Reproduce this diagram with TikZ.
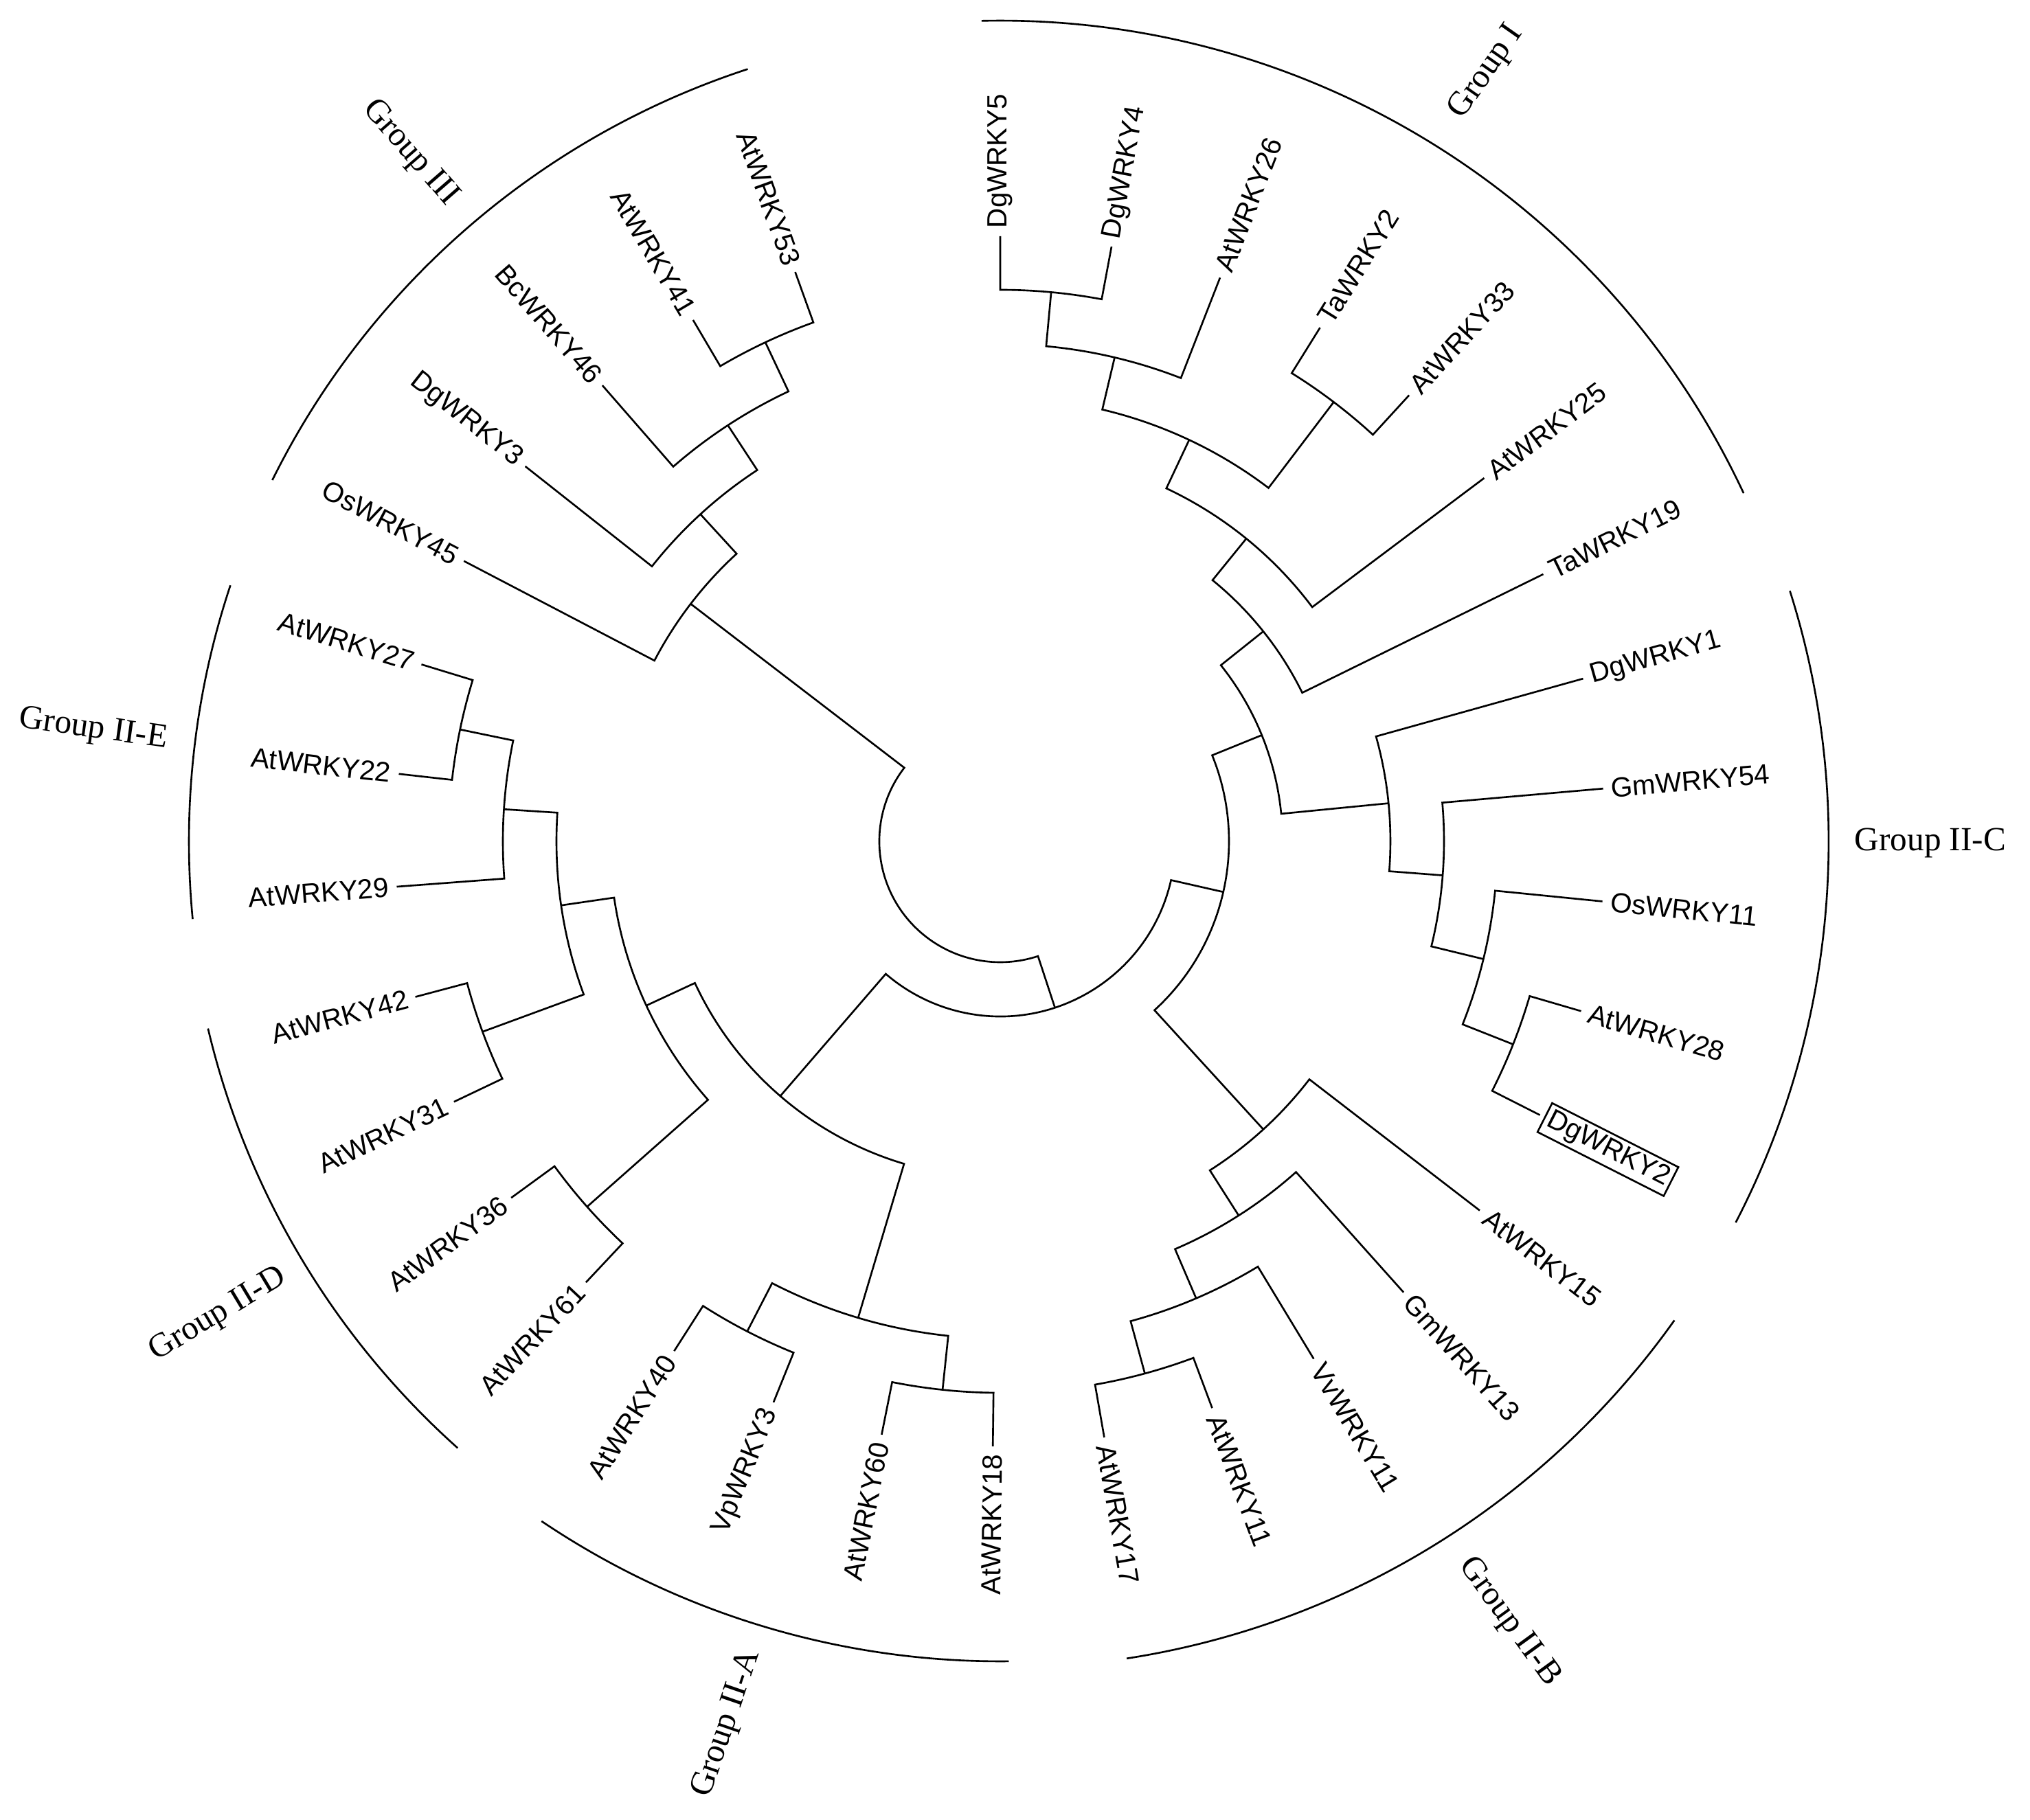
\documentclass[tikz,border=0pt]{standalone}
\usepackage{fontspec}
\setmainfont{Liberation Serif}
\newfontfamily\leaffont{Liberation Sans}

\begin{document}
\begin{tikzpicture}[line width=0.75pt,
  lr/.style={anchor=west, inner sep=3pt, font=\leaffont\fontsize{11.5}{13}\selectfont},
  ll/.style={anchor=east, inner sep=3pt, font=\leaffont\fontsize{11.5}{13}\selectfont},
  grp/.style={font=\fontsize{14}{16}\selectfont}]
\useasboundingbox (-14.56,-14.24) rectangle (14.99,12.25);

% leaves, right half
\node[lr, rotate=90] (dg5) at (90:8.81) {DgWRKY5};
\node[lr, rotate=79.4] (dg4) at (79.4:8.81) {DgWRKY4};
\node[lr, rotate=68.7] (at26) at (68.7:8.81) {AtWRKY26};
\node[lr, rotate=58.1] (ta2) at (58.1:8.81) {TaWRKY2};
\node[lr, rotate=47.5] (at33) at (47.5:8.81) {AtWRKY33};
\node[lr, rotate=36.9] (at25) at (36.9:8.81) {AtWRKY25};
\node[lr, rotate=26.2] (ta19) at (26.2:8.81) {TaWRKY19};
\node[lr, rotate=15.6] (dg1) at (15.6:8.81) {DgWRKY1};
\node[lr, rotate=5.0] (gm54) at (5.0:8.81) {GmWRKY54};
\node[lr, rotate=-5.7] (os11) at (-5.7:8.81) {OsWRKY11};
\node[lr, rotate=-16.3] (at28) at (-16.3:8.81) {AtWRKY28};
\node[lr, rotate=-26.9, draw, inner sep=1.5pt, outer sep=0.08cm] (dg2) at (-26.9:8.81) {DgWRKY2};
\node[lr, rotate=-37.6] (at15) at (-37.6:8.81) {AtWRKY15};
\node[lr, rotate=-48.2] (gm13) at (-48.2:8.81) {GmWRKY13};
\node[lr, rotate=-58.8] (vv11) at (-58.8:8.81) {VvWRKY11};
\node[lr, rotate=-69.5] (at11) at (-69.5:8.81) {AtWRKY11};
\node[lr, rotate=-80.1] (at17) at (-80.1:8.81) {AtWRKY17};

% leaves, left half
\node[ll, rotate=89.3] (at18) at (269.3:8.81) {AtWRKY18};
\node[ll, rotate=78.7] (at60) at (258.7:8.81) {AtWRKY60};
\node[ll, rotate=68.0] (vp3) at (248.0:8.81) {VpWRKY3};
\node[ll, rotate=57.4] (at40) at (237.4:8.81) {AtWRKY40};
\node[ll, rotate=46.8] (at61) at (226.8:8.81) {AtWRKY61};
\node[ll, rotate=36.1] (at36) at (216.1:8.81) {AtWRKY36};
\node[ll, rotate=25.5] (at31) at (205.5:8.81) {AtWRKY31};
\node[ll, rotate=14.9] (at42) at (194.9:8.81) {AtWRKY42};
\node[ll, rotate=4.3] (at29) at (184.3:8.81) {AtWRKY29};
\node[ll, rotate=-6.4] (at22) at (173.6:8.81) {AtWRKY22};
\node[ll, rotate=-17.0] (at27) at (163.0:8.81) {AtWRKY27};
\node[ll, rotate=-27.6] (os45) at (152.4:8.81) {OsWRKY45};
\node[ll, rotate=-38.3] (dg3) at (141.7:8.81) {DgWRKY3};
\node[ll, rotate=-48.9] (bc46) at (131.1:8.81) {BcWRKY46};
\node[ll, rotate=-59.5] (at41) at (120.5:8.81) {AtWRKY41};
\node[ll, rotate=-70.2] (at53) at (109.8:8.81) {AtWRKY53};

% inner nodes
\coordinate (n1) at (84.7:8.03);
\coordinate (n2) at (76.7:7.24);
\coordinate (n3) at (52.8:8.03);
\coordinate (n4) at (64.8:6.46);
\coordinate (n5) at (50.9:5.68);
\coordinate (n6) at (38.6:4.90);
\coordinate (n7) at (-21.6:8.03);
\coordinate (n8) at (-13.7:7.24);
\coordinate (n9) at (-4.4:6.46);
\coordinate (n10) at (5.6:5.68);
\coordinate (n11) at (22.1:4.11);
\coordinate (n12) at (-74.8:8.03);
\coordinate (n13) at (-66.8:7.24);
\coordinate (n14) at (-57.5:6.46);
\coordinate (n15) at (-47.6:5.68);
\coordinate (n16) at (-12.8:3.33);
\coordinate (n17) at (264.0:8.03);
\coordinate (n18) at (242.7:8.03);
\coordinate (n19) at (253.4:7.24);
\coordinate (n20) at (221.5:8.03);
\coordinate (n21) at (200.2:8.03);
\coordinate (n22) at (168.3:8.03);
\coordinate (n23) at (176.3:7.24);
\coordinate (n24) at (188.3:6.46);
\coordinate (n25) at (204.9:5.68);
\coordinate (n26) at (229.2:4.90);
\coordinate (n27) at (-71.8:2.55);
\coordinate (n28) at (115.2:8.03);
\coordinate (n29) at (123.2:7.24);
\coordinate (n30) at (132.5:6.46);
\coordinate (n31) at (142.5:5.68);

% branches
\draw (dg5.west) -- (90:8.03) arc[start angle=90, end angle=79.4, radius=8.03] -- (dg4.west);
\draw (n1) -- (84.7:7.24) arc[start angle=84.7, end angle=68.7, radius=7.24] -- (at26.west);
\draw (ta2.west) -- (58.1:8.03) arc[start angle=58.1, end angle=47.5, radius=8.03] -- (at33.west);
\draw (n2) -- (76.7:6.46) arc[start angle=76.7, end angle=52.8, radius=6.46] -- (n3);
\draw (n4) -- (64.8:5.68) arc[start angle=64.8, end angle=36.9, radius=5.68] -- (at25.west);
\draw (n5) -- (50.9:4.90) arc[start angle=50.9, end angle=26.2, radius=4.90] -- (ta19.west);
\draw (at28.west) -- (-16.3:8.03) arc[start angle=-16.3, end angle=-26.9, radius=8.03] -- (dg2.west);
\draw (os11.west) -- (-5.7:7.24) arc[start angle=-5.7, end angle=-21.6, radius=7.24] -- (n7);
\draw (gm54.west) -- (5.0:6.46) arc[start angle=5.0, end angle=-13.7, radius=6.46] -- (n8);
\draw (dg1.west) -- (15.6:5.68) arc[start angle=15.6, end angle=-4.4, radius=5.68] -- (n9);
\draw (n6) -- (38.6:4.11) arc[start angle=38.6, end angle=5.6, radius=4.11] -- (n10);
\draw (at11.west) -- (-69.5:8.03) arc[start angle=-69.5, end angle=-80.1, radius=8.03] -- (at17.west);
\draw (vv11.west) -- (-58.8:7.24) arc[start angle=-58.8, end angle=-74.8, radius=7.24] -- (n12);
\draw (gm13.west) -- (-48.2:6.46) arc[start angle=-48.2, end angle=-66.8, radius=6.46] -- (n13);
\draw (at15.west) -- (-37.6:5.68) arc[start angle=-37.6, end angle=-57.5, radius=5.68] -- (n14);
\draw (n11) -- (22.1:3.33) arc[start angle=22.1, end angle=-47.6, radius=3.33] -- (n15);
\draw (at18.east) -- (269.3:8.03) arc[start angle=269.3, end angle=258.7, radius=8.03] -- (at60.east);
\draw (vp3.east) -- (248.0:8.03) arc[start angle=248.0, end angle=237.4, radius=8.03] -- (at40.east);
\draw (n17) -- (264.0:7.24) arc[start angle=264.0, end angle=242.7, radius=7.24] -- (n18);
\draw (at61.east) -- (226.8:8.03) arc[start angle=226.8, end angle=216.1, radius=8.03] -- (at36.east);
\draw (at31.east) -- (205.5:8.03) arc[start angle=205.5, end angle=194.9, radius=8.03] -- (at42.east);
\draw (at22.east) -- (173.6:8.03) arc[start angle=173.6, end angle=163.0, radius=8.03] -- (at27.east);
\draw (at29.east) -- (184.3:7.24) arc[start angle=184.3, end angle=168.3, radius=7.24] -- (n22);
\draw (n21) -- (200.2:6.46) arc[start angle=200.2, end angle=176.3, radius=6.46] -- (n23);
\draw (n20) -- (221.5:5.68) arc[start angle=221.5, end angle=188.3, radius=5.68] -- (n24);
\draw (n19) -- (253.4:4.90) arc[start angle=253.4, end angle=204.9, radius=4.90] -- (n25);
\draw (n16) -- (-12.8:2.55) arc[start angle=-12.8, end angle=-130.8, radius=2.55] -- (n26);
\draw (at41.east) -- (120.5:8.03) arc[start angle=120.5, end angle=109.8, radius=8.03] -- (at53.east);
\draw (bc46.east) -- (131.1:7.24) arc[start angle=131.1, end angle=115.2, radius=7.24] -- (n28);
\draw (dg3.east) -- (141.7:6.46) arc[start angle=141.7, end angle=123.2, radius=6.46] -- (n29);
\draw (os45.east) -- (152.4:5.68) arc[start angle=152.4, end angle=132.5, radius=5.68] -- (n30);
\draw (n31) -- (142.5:1.76) arc[start angle=142.5, end angle=288.2, radius=1.76] -- (n27);

% groups
\draw (25.1:11.95) arc[start angle=25.1, end angle=91.3, radius=11.95];
\draw (-27.4:12.06) arc[start angle=-27.4, end angle=17.6, radius=12.06];
\draw (-81.2:12.04) arc[start angle=-81.2, end angle=-35.4, radius=12.04];
\draw (236.0:11.94) arc[start angle=236.0, end angle=270.6, radius=11.94];
\draw (193.3:11.85) arc[start angle=193.3, end angle=228.2, radius=11.85];
\draw (161.6:11.81) arc[start angle=161.6, end angle=185.5, radius=11.81];
\draw (108.1:11.83) arc[start angle=108.1, end angle=153.6, radius=11.83];

\node[grp, rotate=55] (gI) at (57.7:13.25) {Group I};
\node[grp] (gIIC) at (-0.1:13.54) {Group II-C};
\node[grp, rotate=-54] (gIIB) at (-56.9:13.57) {Group II-B};
\node[grp, rotate=71] (gIIA) at (252.8:13.45) {Group II-A};
\node[grp, rotate=31] (gIID) at (211.2:13.31) {Group II-D};
\node[grp, rotate=-8] (gIIE) at (173.0:13.3) {Group II-E};
\node[grp, rotate=-49] (gIII) at (130.6:13.2) {Group III};

\end{tikzpicture}
\end{document}
